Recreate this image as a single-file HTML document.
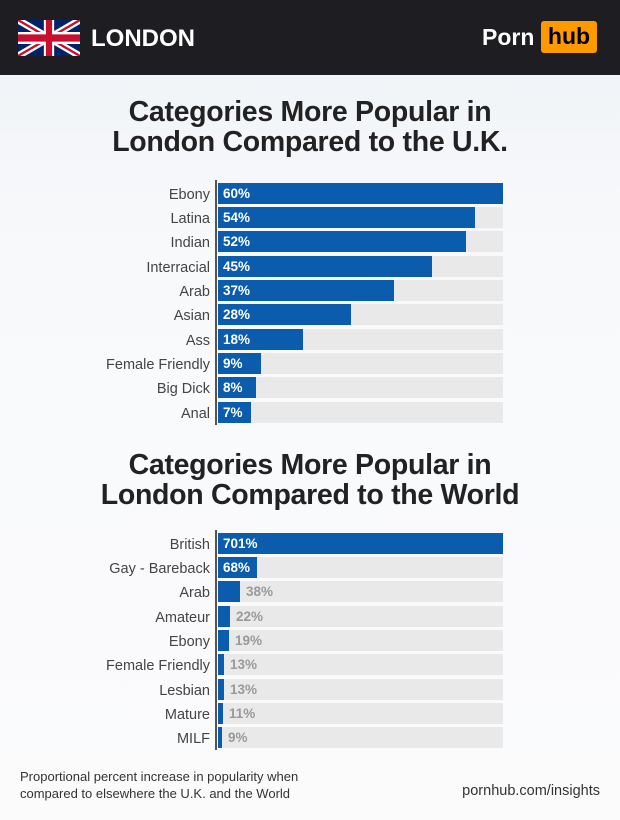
<!DOCTYPE html>
<html><head><style>
*{margin:0;padding:0;box-sizing:border-box}
body{width:620px;height:820px;position:relative;overflow:hidden;font-family:"Liberation Sans",sans-serif;background:linear-gradient(#eef2f6,#f8f9fb 30%,#fbfbfc);}
.hdr{position:absolute;left:0;top:0;width:620px;height:75px;background:#1e1e22}
.t{position:absolute;width:620px;text-align:center;font-size:28.5px;font-weight:bold;color:#222;line-height:30px;letter-spacing:-0.3px}
.lab{position:absolute;right:410px;font-size:14.5px;color:#444;line-height:22px;white-space:nowrap}
.trk{position:absolute;left:218px;width:285px;height:21px;background:#e9e9ea}
.bar{position:absolute;left:218px;height:21px;background:#0b5cad}
.v{position:absolute;font-size:13.5px;font-weight:bold;line-height:21px;color:#fff}
.g{color:#999}
.ax{position:absolute;left:215px;width:2px;background:#555}
</style></head><body>
<div class="hdr"></div>
<svg style="position:absolute;left:18px;top:20px" width="62" height="36" viewBox="0 0 60 30" preserveAspectRatio="none">
<rect width="60" height="30" fill="#012169"/>
<path d="M0,0 L60,30 M60,0 L0,30" stroke="#fff" stroke-width="6"/>
<path d="M0,0 L60,30 M60,0 L0,30" stroke="#C8102E" stroke-width="2"/>
<path d="M30,0 V30 M0,15 H60" stroke="#fff" stroke-width="10"/>
<path d="M30,0 V30 M0,15 H60" stroke="#C8102E" stroke-width="6"/>
</svg>
<div style="position:absolute;left:91px;top:24px;color:#fff;font-weight:bold;font-size:24px;line-height:30px">LONDON</div>
<div style="position:absolute;left:482px;top:22px;color:#fff;font-weight:bold;font-size:23px;line-height:30px">Porn</div>
<div style="position:absolute;left:541px;top:21px;width:56px;height:32px;background:#ff9900;border-radius:3px;color:#000;font-weight:bold;font-size:23px;line-height:31px;text-align:center">hub</div>

<div class="t" style="top:97px">Categories More Popular in<br>London Compared to the U.K.</div>
<div class="t" style="top:450px">Categories More Popular in<br>London Compared to the World</div>

<div class="ax" style="top:180px;height:245px"></div>
<div class="ax" style="top:530px;height:220px"></div>

<div id="c"></div>
<script>
var a=[["Ebony",503,"60%"],["Latina",475,"54%"],["Indian",466,"52%"],["Interracial",432,"45%"],["Arab",394,"37%"],["Asian",351,"28%"],["Ass",303,"18%"],["Female Friendly",261,"9%"],["Big Dick",256,"8%"],["Anal",251,"7%"]];
var b=[["British",503,"701%"],["Gay - Bareback",257,"68%"],["Arab",240,"38%"],["Amateur",230,"22%"],["Ebony",229,"19%"],["Female Friendly",224,"13%"],["Lesbian",224,"13%"],["Mature",223,"11%"],["MILF",222,"9%"]];
var h="";
function draw(d,y0){d.forEach(function(r,i){var y=y0+i*24.35;var w=r[1]-218;
h+='<div class="lab" style="top:'+(y+1)+'px">'+r[0]+'</div>';
h+='<div class="trk" style="top:'+y+'px"></div><div class="bar" style="top:'+y+'px;width:'+w+'px"></div>';
var inside=w>30;
h+='<div class="v'+(inside?'':' g')+'" style="top:'+y+'px;left:'+(inside?223:r[1]+6)+'px">'+r[2]+'</div>';});}
draw(a,182.5);draw(b,532.5);
document.getElementById("c").innerHTML=h;
</script>
<div style="position:absolute;left:20px;top:768px;font-size:13px;color:#333;line-height:17px">Proportional percent increase in popularity when<br>compared to elsewhere the U.K. and the World</div>
<div style="position:absolute;right:20px;top:783px;font-size:14.5px;color:#333">pornhub.com/insights</div>
</body></html>
